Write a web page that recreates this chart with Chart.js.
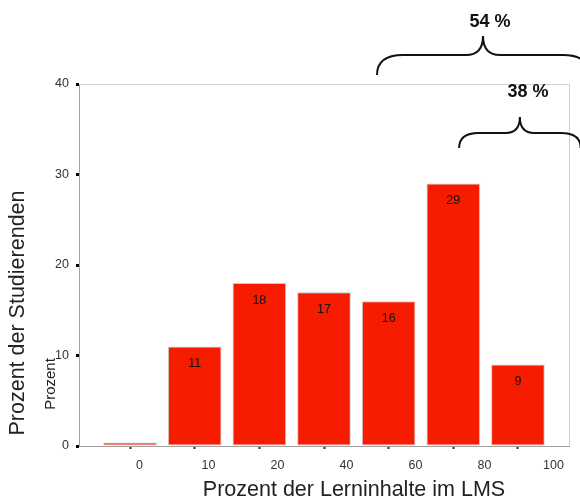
<!DOCTYPE html>
<html>
<head>
<meta charset="utf-8">
<script src="https://cdn.jsdelivr.net/npm/chart.js@4.4.1/dist/chart.umd.min.js"></script>
<style>
  html, body { margin: 0; padding: 0; background: #fff; }
  #wrap { width: 580px; height: 501px; position: relative; }
</style>
</head>
<body>
<div id="wrap"><canvas id="c" width="580" height="501"></canvas></div>
<script>
// Anteil der Lerninhalte im LMS (Kategorien) und Prozent der Studierenden
const categories = ['0', '10', '20', '40', '60', '80', '100'];
const studentShare = [0.4, 11, 18, 17, 16, 29, 9];
const yTicks = [0, 10, 20, 30, 40];
// Zusammengefasste Gruppen für die Klammern (Indizes der Balken)
const groupWide = [4, 5, 6];
const groupNarrow = [5, 6];

const FONT = "'Liberation Sans', Arial, Helvetica, sans-serif";
const barColor = '#f51c00';

const points = studentShare.map((v, i) => ({ x: i, y: v }));
const sumOf = idx => idx.reduce((s, i) => s + studentShare[i], 0);

// Werte in die Balken schreiben
const valueLabels = {
  id: 'valueLabels',
  afterDatasetsDraw(chart) {
    const ctx = chart.ctx;
    const meta = chart.getDatasetMeta(0);
    ctx.save();
    ctx.font = '12.5px ' + FONT;
    ctx.fillStyle = '#111';
    ctx.textAlign = 'center';
    ctx.textBaseline = 'middle';
    meta.data.forEach((bar, i) => {
      const v = studentShare[i];
      if (v < 1) return;
      ctx.fillText(String(Math.round(v)), bar.x, bar.y + 17);
    });
    ctx.restore();
  }
};

// Rahmen, Achsentitel und Klammern
const decorations = {
  id: 'decorations',
  beforeDatasetsDraw(chart) {
    const { ctx, chartArea: a } = chart;
    ctx.save();
    ctx.strokeStyle = '#cfcfcf';
    ctx.lineWidth = 1;
    ctx.beginPath();
    ctx.moveTo(a.left, a.top + 0.5);
    ctx.lineTo(a.right + 0.5, a.top + 0.5);
    ctx.lineTo(a.right + 0.5, a.bottom);
    ctx.stroke();
    ctx.restore();
  },
  afterDraw(chart) {
    const { ctx } = chart;
    const xs = chart.scales.x;
    ctx.save();
    ctx.fillStyle = '#222';

    // y-Achsentitel
    ctx.save();
    ctx.translate(18, 313);
    ctx.rotate(-Math.PI / 2);
    ctx.font = '21.5px ' + FONT;
    ctx.textAlign = 'center';
    ctx.textBaseline = 'middle';
    ctx.fillText('Prozent der Studierenden', 0, 0);
    ctx.restore();

    ctx.save();
    ctx.translate(51, 384);
    ctx.rotate(-Math.PI / 2);
    ctx.font = '15px ' + FONT;
    ctx.textAlign = 'center';
    ctx.textBaseline = 'middle';
    ctx.fillText('Prozent', 0, 0);
    ctx.restore();

    // x-Achsentitel
    ctx.font = '21.5px ' + FONT;
    ctx.textAlign = 'center';
    ctx.textBaseline = 'middle';
    ctx.fillText('Prozent der Lerninhalte im LMS', 354, 490);

    // geschweifte Klammer: linkes Ende x0, Spitze xm, Höhe der Querlinie yb
    function brace(x0, xm, yEnd, yb, yTip) {
      const r = yEnd - yb;
      const x1 = 2 * xm - x0;
      ctx.beginPath();
      ctx.moveTo(x0, yEnd);
      ctx.quadraticCurveTo(x0, yb, x0 + r * 1.3, yb);
      ctx.lineTo(xm - (yb - yTip) * 0.9, yb);
      ctx.quadraticCurveTo(xm, yb, xm, yTip);
      ctx.quadraticCurveTo(xm, yb, xm + (yb - yTip) * 0.9, yb);
      ctx.lineTo(x1 - r * 1.3, yb);
      ctx.quadraticCurveTo(x1, yb, x1, yEnd);
      ctx.stroke();
    }
    ctx.strokeStyle = '#111';
    ctx.lineWidth = 2;
    const wideLeft = xs.getPixelForValue(groupWide[0] - 0.18);
    const wideMid = xs.getPixelForValue(groupWide[0] + 1.46);
    brace(wideLeft, wideMid, 75, 55, 36);
    const narrowLeft = xs.getPixelForValue(groupNarrow[0] + 0.09);
    const narrowMid = xs.getPixelForValue(groupNarrow[0] + 1.03);
    brace(narrowLeft, narrowMid, 148, 133, 117);

    ctx.fillStyle = '#111';
    ctx.font = 'bold 18px ' + FONT;
    ctx.textAlign = 'center';
    ctx.fillText(Math.round(sumOf(groupWide)) + ' %', 490, 22);
    ctx.fillText(Math.round(sumOf(groupNarrow)) + ' %', 528, 92);
    ctx.restore();
  }
};

new Chart(document.getElementById('c'), {
  type: 'bar',
  data: {
    datasets: [{
      data: points,
      xAxisID: 'x',
      backgroundColor: barColor,
      borderColor: 'rgba(170,170,170,0.6)',
      borderWidth: 1,
      borderSkipped: false,
      categoryPercentage: 1,
      barPercentage: 0.83
    }]
  },
  options: {
    responsive: false,
    animation: false,
    layout: { padding: { top: 84, right: 11, left: 0, bottom: 0 } },
    plugins: { legend: { display: false }, tooltip: { enabled: false } },
    scales: {
      // Achse der Balken: nur Teilstriche unter den Balkenmitten
      x: {
        type: 'linear',
        position: 'bottom',
        offset: false,
        min: -0.79,
        max: 6.79,
        afterBuildTicks(scale) { scale.ticks = categories.map((_, i) => ({ value: i })); },
        afterFit(scale) { scale.height = 4; },
        ticks: { display: false },
        grid: { offset: false, drawOnChartArea: false, drawTicks: true, tickLength: 3, tickWidth: 2, tickColor: '#333' },
        border: { display: true, color: '#a0a0a0', width: 1 }
      },
      // Beschriftung der Klassen in gleichmäßigem Abstand
      xLabels: {
        type: 'linear',
        position: 'bottom',
        offset: false,
        min: -0.877,
        max: 6.224,
        afterBuildTicks(scale) { scale.ticks = categories.map((_, i) => ({ value: i })); },
        afterFit(scale) { scale.height = 51; },
        ticks: {
          callback: v => categories[v],
          padding: 8,
          maxRotation: 0,
          autoSkip: false,
          color: '#333',
          font: { family: FONT, size: 12.5 }
        },
        grid: { display: false, drawTicks: false },
        border: { display: false }
      },
      y: {
        min: 0,
        max: 40,
        afterBuildTicks(scale) { scale.ticks = yTicks.map(v => ({ value: v })); },
        afterFit(scale) { scale.width = 79; },
        ticks: {
          padding: 7,
          color: '#333',
          font: { family: FONT, size: 12.5 }
        },
        grid: { drawOnChartArea: false, drawTicks: true, tickLength: 3, tickWidth: 3, tickColor: '#000' },
        border: { display: true, color: '#a0a0a0', width: 1 }
      }
    }
  },
  plugins: [valueLabels, decorations]
});
</script>
</body>
</html>
